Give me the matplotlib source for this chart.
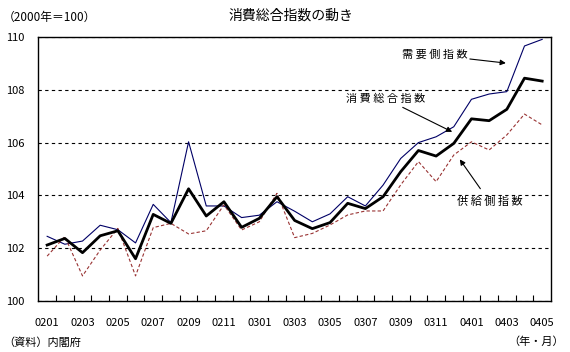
import matplotlib
matplotlib.use('Agg')
from matplotlib import pyplot as plt
from matplotlib.ticker import FixedLocator

plt.rcParams['font.family'] = ['Noto Sans CJK JP', 'DejaVu Sans']

# 2002年1月～2004年5月 (月次)
months = ['0201', '0202', '0203', '0204', '0205', '0206', '0207', '0208', '0209', '0210',
          '0211', '0212', '0301', '0302', '0303', '0304', '0305', '0306', '0307', '0308',
          '0309', '0310', '0311', '0312', '0401', '0402', '0403', '0404', '0405']

# 需要側指数
demand = [102.45, 102.15, 102.27, 102.87, 102.7, 102.2, 103.66, 102.97, 106.03, 103.6,
          103.6, 103.16, 103.25, 103.76, 103.4, 103.0, 103.3, 103.95, 103.6, 104.39,
          105.4, 106.0, 106.22, 106.6, 107.64, 107.84, 107.93, 109.66, 109.91]
# 消費総合指数
total = [102.12, 102.37, 101.83, 102.47, 102.66, 101.6, 103.28, 102.94, 104.25, 103.22,
         103.76, 102.79, 103.13, 103.95, 103.05, 102.74, 102.97, 103.7, 103.5, 103.95,
         104.9, 105.7, 105.49, 105.97, 106.9, 106.83, 107.26, 108.44, 108.33]
# 供給側指数
supply = [101.7, 102.44, 100.95, 101.93, 102.75, 100.95, 102.78, 102.94, 102.54, 102.66,
          103.64, 102.69, 103.0, 104.08, 102.4, 102.56, 102.88, 103.26, 103.41, 103.41,
          104.4, 105.28, 104.52, 105.53, 106.03, 105.72, 106.29, 107.08, 106.67]

x = list(range(len(months)))

fig = plt.figure(figsize=(5.7, 3.52), dpi=100)
ax = fig.add_axes([0.0672, 0.1449, 0.8995, 0.75])

ax.plot(x, demand, color='#000066', lw=0.8)
ax.plot(x, supply, color='#993333', lw=0.8, linestyle=(0, (3, 2)))
ax.plot(x, total, color='black', lw=2.0)

ax.set_xlim(-0.5, len(months) - 0.5)
ax.set_ylim(100, 110)

# 目盛り
ax.xaxis.set_major_locator(FixedLocator(x[::2]))
ax.set_xticklabels(months[::2], fontsize=8)
ax.xaxis.set_minor_locator(FixedLocator([i + 0.5 for i in x[:-1]]))
ax.tick_params(axis='x', which='major', length=0, pad=12)
ax.tick_params(axis='x', which='minor', direction='in', length=4, width=0.8)
ax.set_yticks([100, 102, 104, 106, 108, 110])
ax.tick_params(axis='y', length=0, pad=10, labelsize=8)
ax.grid(axis='y', color='black', linestyle=(0, (3, 3)), lw=0.8)
for s in ax.spines.values():
    s.set_linewidth(1.0)

# 注記
bb = dict(facecolor='white', edgecolor='none', pad=1)
arr = dict(arrowstyle='-|>', color='black', lw=0.8, mutation_scale=8)
ax.annotate('需 要 側 指 数', xy=(26.1, 109.0), xytext=(21.9, 109.32), fontsize=8, ha='center',
            va='center', bbox=bb, arrowprops=dict(arr, shrinkA=1))
ax.annotate('消 費 総 合 指 数', xy=(23.05, 106.36), xytext=(19.16, 107.65), fontsize=8, ha='center',
            va='center', bbox=bb, arrowprops=dict(arr, shrinkA=3))
ax.annotate('供 給 側 指 数', xy=(23.25, 105.45), xytext=(25.03, 103.75), fontsize=8, ha='center',
            va='center', bbox=bb, arrowprops=dict(arr, shrinkA=6))

fig.text(0.51, 0.955, '消費総合指数の動き', ha='center', va='center', fontsize=10)
fig.text(0.005, 0.95, '（2000年＝100）', ha='left', va='center', fontsize=8.5)
fig.text(0.005, 0.028, '（資料）内閣府', ha='left', va='center', fontsize=8)
fig.text(0.99, 0.028, '（年・月）', ha='right', va='center', fontsize=8)

plt.savefig('out.png', dpi=100)
